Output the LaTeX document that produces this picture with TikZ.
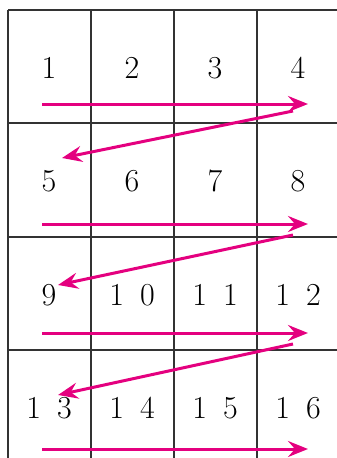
\documentclass[tikz,border=0pt]{standalone}
\usetikzlibrary{arrows.meta}
\definecolor{zigpink}{RGB}{228,0,127}
\tikzset{
  gridline/.style={line width=1.6pt,black!80},
  cellnum/.style={font=\fontsize{32}{38}\selectfont,inner sep=0pt},
  zigarrow/.style={zigpink,line width=3pt,-{Stealth[length=20pt,width=16pt,inset=7pt]}}
}
\begin{document}
\begin{tikzpicture}[x=1pt,y=-1pt]
    \useasboundingbox (0,0) rectangle (337,458);
    % grid
    \foreach \x in {8,91,174,257} \draw[gridline] (\x,10) -- (\x,458);
    \foreach \y in {10,123,237,350} \draw[gridline] (8,\y) -- (337,\y);
    % numbers
    \foreach \n/\t/\x/\y in {1/1/49/68,2/2/132/68,3/3/215/68,4/4/298/68,
        5/5/49/181,6/6/132/181,7/7/215/181,8/8/298/181,
        9/9/49/295,10/{1\enspace0}/132/295,11/{1\enspace1}/215/295,12/{1\enspace2}/298/295,
        13/{1\enspace3}/49/408,14/{1\enspace4}/132/408,15/{1\enspace5}/215/408,16/{1\enspace6}/298/408}
      \node[cellnum] (n\n) at (\x,\y) {\t};
    % arrow ends
    \foreach \r/\y in {1/104,2/224,3/333,4/449} {
      \coordinate (s\r) at (42,\y);
      \coordinate (e\r) at (308,\y);
    }
    \coordinate (b1) at (293,111);
    \coordinate (f1) at (62,158);
    \coordinate (b2) at (293,235);
    \coordinate (f2) at (58,285);
    \coordinate (b3) at (293,344);
    \coordinate (f3) at (58,395);
    \foreach \r in {1,2,3,4} \draw[zigarrow] (s\r) -- (e\r);
    \foreach \r in {1,2,3} \draw[zigarrow] (b\r) -- (f\r);
  \end{tikzpicture}
\end{document}
